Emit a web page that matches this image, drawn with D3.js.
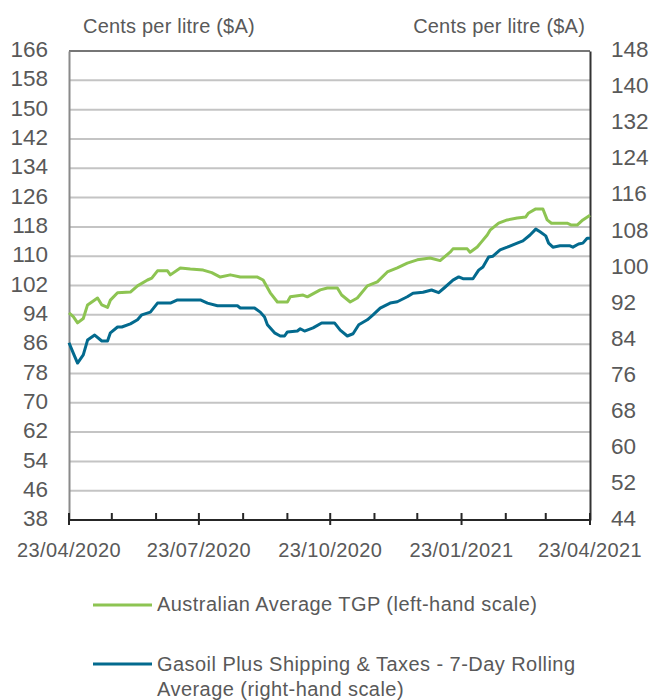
<!DOCTYPE html>
<html>
<head>
<meta charset="utf-8">
<title>TGP vs Gasoil</title>
<script src="https://d3js.org/d3.v7.min.js"></script>
<style>
  body { margin: 0; background: #fff; }
  svg text { font-family: "Liberation Sans", Arial, sans-serif; fill: #595959; }
</style>
</head>
<body>
<div id="chart"></div>
<script>
// Australian Average TGP (left-hand scale)
var tgpDates = ["2020-04-23","2020-04-26","2020-04-29","2020-05-03","2020-05-06","2020-05-13","2020-05-16","2020-05-20",
  "2020-05-22","2020-05-27","2020-06-05","2020-06-10","2020-06-17","2020-06-20","2020-06-24","2020-07-01","2020-07-03",
  "2020-07-10","2020-07-17","2020-07-26","2020-08-01","2020-08-07","2020-08-14","2020-08-21","2020-09-02","2020-09-06",
  "2020-09-11","2020-09-16","2020-09-23","2020-09-25","2020-10-04","2020-10-07","2020-10-16","2020-10-21","2020-10-28",
  "2020-10-31","2020-11-06","2020-11-11","2020-11-18","2020-11-25","2020-12-02","2020-12-09","2020-12-16","2020-12-23",
  "2021-01-01","2021-01-08","2021-01-15","2021-01-17","2021-01-27","2021-01-29","2021-02-03","2021-02-06","2021-02-10",
  "2021-02-12","2021-02-18","2021-02-24","2021-03-03","2021-03-09","2021-03-11","2021-03-16","2021-03-21","2021-03-24",
  "2021-03-27","2021-04-07","2021-04-10","2021-04-14","2021-04-18","2021-04-23"];
var tgpValues = [94.5,93.5,91.8,93,96.7,98.6,96.7,96,
  98,100,100.2,101.9,103.5,104,106,106,104.9,
  106.8,106.5,106.2,105.5,104.3,104.9,104.3,104.3,103.5,
  100,97.5,97.5,98.9,99.4,98.9,100.8,101.3,101.3,
  99.4,97.5,98.6,101.9,103,105.7,106.8,108.1,109,
  109.5,108.8,111.1,112,112,111.1,112.5,113.9,115.8,
  117.1,119,119.9,120.4,120.7,121.8,122.9,122.9,119.9,
  119,119,118.5,118.5,119.9,121.2];

// Gasoil Plus Shipping & Taxes - 7-Day Rolling Average (right-hand scale)
var gasDates = ["2020-04-23","2020-04-26","2020-04-29","2020-05-03","2020-05-06","2020-05-11","2020-05-16","2020-05-20",
  "2020-05-22","2020-05-27","2020-05-30","2020-06-05","2020-06-10","2020-06-13","2020-06-19","2020-06-24","2020-07-03",
  "2020-07-08","2020-07-24","2020-07-29","2020-08-05","2020-08-19","2020-08-21","2020-08-31","2020-09-04","2020-09-07",
  "2020-09-09","2020-09-14","2020-09-18","2020-09-21","2020-09-23","2020-09-30","2020-10-02","2020-10-05","2020-10-11",
  "2020-10-17","2020-10-26","2020-10-30","2020-11-04","2020-11-08","2020-11-12","2020-11-18","2020-11-22","2020-11-27",
  "2020-12-04","2020-12-09","2020-12-16","2020-12-20","2020-12-27","2021-01-02","2021-01-07","2021-01-11","2021-01-17",
  "2021-01-21","2021-01-24","2021-01-31","2021-02-04","2021-02-07","2021-02-11","2021-02-14","2021-02-19","2021-02-24",
  "2021-03-03","2021-03-07","2021-03-12","2021-03-16","2021-03-19","2021-03-23","2021-03-25","2021-03-28","2021-04-02",
  "2021-04-09","2021-04-11","2021-04-15","2021-04-18","2021-04-21","2021-04-23"];
var gasValues = [83.3,81,78.8,80.6,83.9,85,83.7,83.7,
  85.5,86.8,86.8,87.5,88.4,89.5,90.1,92.1,92.1,
  92.8,92.8,92.1,91.5,91.5,91,91,90.1,89,
  87.3,85.5,84.8,84.8,85.7,85.9,86.4,85.9,86.6,
  87.7,87.7,86.1,84.8,85.3,87.3,88.4,89.5,91,
  92.1,92.4,93.5,94.3,94.5,95,94.4,95.5,97.2,
  97.9,97.5,97.5,99.4,100.1,102.3,102.5,103.9,104.5,
  105.4,105.9,107.2,108.5,107.9,107,105.4,104.5,104.8,
  104.8,104.5,105.2,105.4,106.5,106.5];

var leftTicks = [38,46,54,62,70,78,86,94,102,110,118,126,134,142,150,158,166];
var rightTicks = [44,52,60,68,76,84,92,100,108,116,124,132,140,148];
var monthTicks = ["2020-04-23","2020-05-23","2020-06-23","2020-07-23","2020-08-23","2020-09-23","2020-10-23",
  "2020-11-23","2020-12-23","2021-01-23","2021-02-23","2021-03-23","2021-04-23"];
var dateLabels = ["23/04/2020","23/07/2020","23/10/2020","23/01/2021","23/04/2021"];

var parse = d3.timeParse("%Y-%m-%d");

var W = 653, H = 700;
// plot box (note: "top" is reserved on window, so use pl/pr/pt/pb)
var pl = 69, pr = 590, pt = 51, pb = 520;

var svg = d3.select("#chart").append("svg")
  .attr("width", W)
  .attr("height", H);

var x = d3.scaleTime()
  .domain([parse("2020-04-23"), parse("2021-04-23")])
  .range([pl, pr]);
var yL = d3.scaleLinear().domain([38, 166]).range([pb, pt]);
var yR = d3.scaleLinear().domain([44, 148]).range([pb, pt]);

// gridlines
svg.append("g").selectAll("line")
  .data(leftTicks.slice(1, -1))
  .enter().append("line")
    .attr("x1", pl).attr("x2", pr)
    .attr("y1", function(d) { return yL(d); })
    .attr("y2", function(d) { return yL(d); })
    .attr("stroke", "#c4c4c4")
    .attr("stroke-width", 2);

// top border
svg.append("line")
  .attr("x1", pl).attr("x2", pr)
  .attr("y1", pt).attr("y2", pt)
  .attr("stroke", "#767676").attr("stroke-width", 2);

// left axis
var leftAxis = svg.append("g")
  .attr("transform", "translate(" + pl + ",0)")
  .call(d3.axisLeft(yL).tickValues(leftTicks).tickSize(0).tickPadding(21));
leftAxis.select(".domain").attr("stroke", "#8a8a8a").attr("stroke-width", 2);

// right axis
var rightAxis = svg.append("g")
  .attr("transform", "translate(" + pr + ",0)")
  .call(d3.axisRight(yR).tickValues(rightTicks).tickSize(0).tickPadding(21));
rightAxis.select(".domain").attr("stroke", "#333").attr("stroke-width", 2);

svg.selectAll(".tick text")
  .attr("font-size", 22.5)
  .attr("dy", "0.25em")
  .attr("fill", "#595959")
  .attr("font-family", "Liberation Sans, Arial, sans-serif");

// bottom axis with monthly ticks, labels every three months
var bottomAxis = svg.append("g")
  .attr("transform", "translate(0," + pb + ")");
bottomAxis.append("line")
  .attr("x1", pl - 1).attr("x2", pr + 1)
  .attr("stroke", "#262626").attr("stroke-width", 2);
bottomAxis.selectAll(".mtick")
  .data(monthTicks)
  .enter().append("line")
    .attr("class", "mtick")
    .attr("x1", function(d) { return x(parse(d)); })
    .attr("x2", function(d) { return x(parse(d)); })
    .attr("y1", -7)
    .attr("y2", function(d, i) { return i % 3 === 0 ? 5 : 0; })
    .attr("stroke", "#262626").attr("stroke-width", 2);
bottomAxis.selectAll(".dlabel")
  .data(monthTicks.filter(function(d, i) { return i % 3 === 0; }))
  .enter().append("text")
    .attr("class", "dlabel")
    .attr("x", function(d) { return x(parse(d)); })
    .attr("y", 37)
    .attr("text-anchor", "middle")
    .attr("font-size", 20)
    .attr("letter-spacing", 0.4)
    .text(function(d, i) { return dateLabels[i]; });

// unit labels
svg.append("text").attr("x", 83).attr("y", 33)
  .attr("font-size", 20).attr("letter-spacing", 0.2).text("Cents per litre ($A)");
svg.append("text").attr("x", 585).attr("y", 33)
  .attr("font-size", 20).attr("letter-spacing", 0.2).attr("text-anchor", "end").text("Cents per litre ($A)");

// series
var tgp = tgpDates.map(function(d, i) { return {date: parse(d), value: tgpValues[i]}; });
var gas = gasDates.map(function(d, i) { return {date: parse(d), value: gasValues[i]}; });

svg.append("path")
  .datum(tgp)
  .attr("fill", "none")
  .attr("stroke", "#8dc452")
  .attr("stroke-width", 3)
  .attr("stroke-linejoin", "round")
  .attr("d", d3.line()
    .x(function(d) { return x(d.date); })
    .y(function(d) { return yL(d.value); }));

svg.append("path")
  .datum(gas)
  .attr("fill", "none")
  .attr("stroke", "#036a8e")
  .attr("stroke-width", 3)
  .attr("stroke-linejoin", "round")
  .attr("d", d3.line()
    .x(function(d) { return x(d.date); })
    .y(function(d) { return yR(d.value); }));

// legend
var legend = svg.append("g");
legend.append("line")
  .attr("x1", 93).attr("x2", 152).attr("y1", 605).attr("y2", 605)
  .attr("stroke", "#8dc452").attr("stroke-width", 3);
legend.append("text")
  .attr("x", 157).attr("y", 611)
  .attr("font-size", 20)
  .attr("letter-spacing", 0.45)
  .text("Australian Average TGP (left-hand scale)");
legend.append("line")
  .attr("x1", 93).attr("x2", 152).attr("y1", 664).attr("y2", 664)
  .attr("stroke", "#036a8e").attr("stroke-width", 3);
var t2 = legend.append("text")
  .attr("x", 157).attr("y", 671)
  .attr("font-size", 20)
  .attr("letter-spacing", 0.45);
t2.append("tspan").attr("x", 157).text("Gasoil Plus Shipping & Taxes - 7-Day Rolling");
t2.append("tspan").attr("x", 157).attr("dy", 25).text("Average (right-hand scale)");
</script>
</body>
</html>
